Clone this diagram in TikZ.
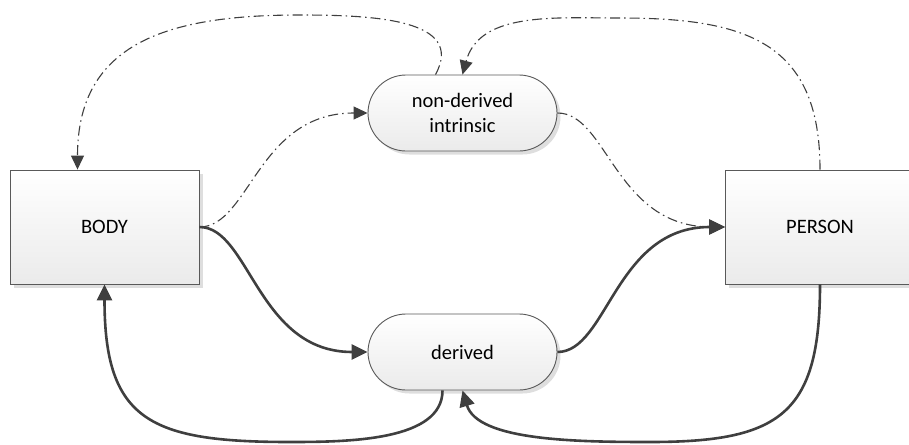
\documentclass[tikz,border=0pt]{standalone}
\usepackage{fontspec}
\setmainfont{Carlito}
\usetikzlibrary{arrows.meta,shapes.misc,shadows,calc}
\definecolor{edge}{HTML}{3F3F3F}
\definecolor{border}{HTML}{595959}
\tikzset{
  base/.style={draw=border, line width=0.9pt, top color=white, bottom color=black!8,
    drop shadow={shadow xshift=3.5pt, shadow yshift=-3.5pt, fill=black!13, opacity=1},
    font=\fontsize{20.5}{25}\selectfont, text=black, align=center, inner sep=0pt},
  entity/.style={base, rectangle, minimum width=189pt, minimum height=114pt},
  state/.style={base, rounded rectangle, minimum width=189pt, minimum height=76pt},
  flow/.style={draw=edge, line width=2.6pt, -{Triangle[length=16pt,width=15pt]}},
  link/.style={draw=edge, line width=1.1pt, dash pattern=on 10pt off 4pt on 1.5pt off 4pt,
    -{Triangle[length=14pt,width=13pt]}},
}
\begin{document}
\begin{tikzpicture}[x=1pt, y=-1pt]
\useasboundingbox (0,0) rectangle (909,444);

% entities and states
\node[entity] (body)   at (104.5,227) {BODY};
\node[entity] (person) at (820,227)   {PERSON};
\node[state]  (nd)     at (462.5,113) {non-derived\\intrinsic};
\node[state]  (der)    at (462.5,352) {derived};

% waypoints of the looping connectors
\coordinate (apexL) at (300,15);
\coordinate (apexR) at (620,18);
\coordinate (baseL) at (290,442);
\coordinate (baseR) at (650,442);

% solid flows through "derived"
\draw[flow] (body.east) .. controls +(50,0) and +(-110,0) .. (der.west);
\draw[flow] (der.east) .. controls +(50,0) and +(-110,0) .. (person.west);
\draw[flow] ([xshift=-20pt]der.south) .. controls +(0,50) and +(60,0) .. (baseL)
            .. controls +(-140,0) and +(0,136) .. (body.south);
\draw[flow] (person.south) .. controls +(0,130) and +(130,0) .. (baseR)
            .. controls +(-75,0) and +(15,50) .. (der.south);

% dash-dot links through "non-derived intrinsic"
\draw[link] (body.east) .. controls +(50,0) and +(-110,0) .. (nd.west);
\draw[link] (nd.east) .. controls +(50,0) and +(-110,0) .. (person.west);
\draw[link] ([xshift=-27pt]nd.north) .. controls +(30,-55) and +(75,0) .. (apexL)
            .. controls +(-130,0) and +(0,-128) .. ([xshift=-27pt]body.north);
\draw[link] (person.north) .. controls +(0,-127) and +(127,0) .. (apexR)
            .. controls +(-65,0) and +(17,-63) .. (nd.north);
\end{tikzpicture}
\end{document}
